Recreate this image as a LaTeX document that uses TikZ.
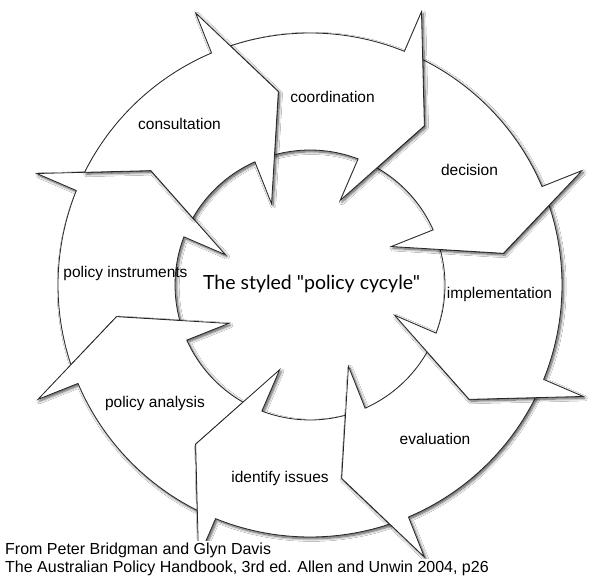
\documentclass[tikz,border=0pt]{standalone}
\usepackage{fontspec}
\setmainfont{Liberation Sans}
\newfontfamily\titlefont{Lato}
\usetikzlibrary{shadows.blur}
\begin{document}
\begin{tikzpicture}[x=1pt,y=1pt,
  seg/.style={fill=white, draw=black!85, line width=0.8pt, line join=miter,
    blur shadow={shadow xshift=1.6pt, shadow yshift=-1.8pt, shadow blur radius=2.6pt, shadow blur steps=8, shadow opacity=70}},
  lab/.style={font=\fontsize{15.5}{18}\selectfont, anchor=base, text=black},
  foot/.style={font=\fontsize{16}{19}\selectfont, anchor=base west, fill=white, inner xsep=1pt, inner ysep=2pt}]
\fill[white] (0,0) rectangle (598,578);
\useasboundingbox (0,0) rectangle (598,578);
\begin{scope}[shift={(310,293)}]
\foreach \t in {-200.7,-155.7,-110.7,-65.7,-20.7,24.3,69.3,114.3} {
  \draw[seg] (\t+39.14:252) arc[start angle=\t+39.14, end angle=\t-1.31, radius=252]
    -- (\t-1.5:295) -- (\t-15:196) -- (\t+1:90) -- (\t-0.2:135)
    arc[start angle=\t-0.2, end angle=\t+35.95, radius=135]
    -- (\t+30:196) -- cycle;
}
\end{scope}
\node[lab] (coordination) at (332.5,475) {coordination};
\node[lab] (decision) at (469.5,402.3) {decision};
\node[lab] (implementation) at (499.5,279) {implementation};
\node[lab] (evaluation) at (435,133) {evaluation};
\node[lab] (identify) at (280,95) {identify issues};
\node[lab] (analysis) at (155,170) {policy analysis};
\node[lab] (instruments) at (125.5,300) {policy instruments};
\node[lab] (consultation) at (179.5,448.7) {consultation};
\node[anchor=base, font=\titlefont\fontsize{19.5}{22}\selectfont] (title) at (311.5,288.5) {The styled "policy cycyle"};
\node[foot] (foot1) at (4,23.3) {From Peter Bridgman and Glyn Davis};
\node[foot] (foot2) at (4,5) {The Australian Policy Handbook, 3rd ed. Allen and Unwin 2004, p26};
\end{tikzpicture}
\end{document}
